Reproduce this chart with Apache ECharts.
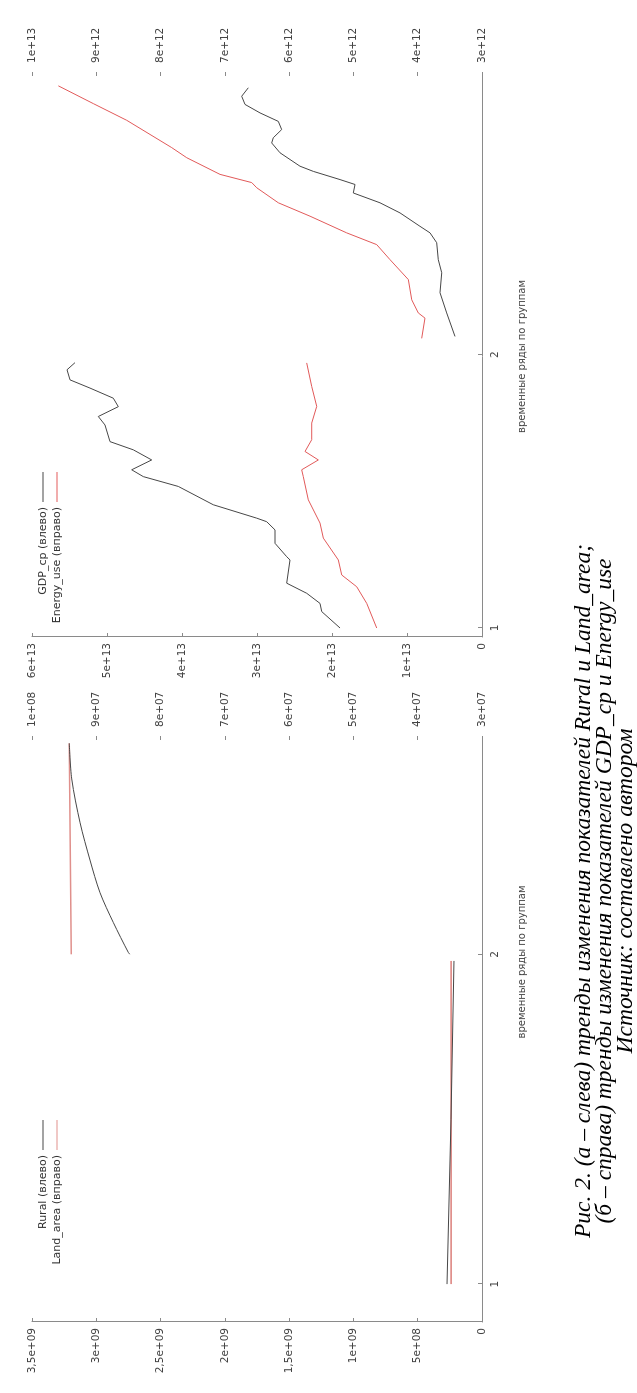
<!DOCTYPE html>
<html>
<head>
<meta charset="utf-8">
<script src="https://cdn.jsdelivr.net/npm/echarts@6.0.0/dist/echarts.min.js"></script>
<style>
  html, body { margin: 0; padding: 0; background: #fff; overflow: hidden; width: 637px; height: 1393px; }
  #rot { position: absolute; left: 0; top: 0; width: 1393px; height: 637px;
         transform-origin: 0 0; transform: translate(0px, 1393px) rotate(-90deg); background: #fff; }
</style>
</head>
<body>
<div id="rot"></div>
<script>
// ---------- data ----------
const xTickValues = [1, 2];
const xTickLabels = ['1', '2'];

// Panel (a): Rural (left axis), Land_area (right axis)
const ruralX1 = [1.000, 1.500, 1.980];
const rural1  = [2.72e8, 2.41e8, 2.18e8];
const ruralX2 = [2.000, 2.006, 2.097, 2.187, 2.286, 2.399, 2.532, 2.640];
const rural2  = [2.738e9, 2.751e9, 2.868e9, 2.971e9, 3.049e9, 3.126e9, 3.191e9, 3.210e9];
const landX1 = [1.000, 1.980];
const land1  = [3.48e7, 3.48e7];
const landX2 = [2.000, 2.640];
const land2  = [9.39e7, 9.42e7];

// Panel (b): GDP_cp (left axis), Energy_use (right axis)
const gdpX1 = [1.000, 1.060, 1.090, 1.127, 1.164, 1.249, 1.261, 1.310, 1.359, 1.389, 1.402, 1.451, 1.518,
               1.554, 1.579, 1.615, 1.652, 1.682, 1.743, 1.774, 1.810, 1.841, 1.878, 1.908, 1.945, 1.971];
const gdp1  = [1.893e13, 2.137e13, 2.160e13, 2.337e13, 2.604e13, 2.560e13, 2.604e13, 2.760e13, 2.760e13,
               2.871e13, 3.004e13, 3.583e13, 4.049e13, 4.516e13, 4.671e13, 4.404e13, 4.649e13, 4.960e13,
               5.027e13, 5.116e13, 4.849e13, 4.916e13, 5.227e13, 5.493e13, 5.533e13, 5.427e13];
const gdpX2 = [2.067, 2.153, 2.227, 2.300, 2.348, 2.410, 2.446, 2.470, 2.519, 2.556, 2.592, 2.623,
               2.641, 2.671, 2.690, 2.739, 2.775, 2.794, 2.824, 2.854, 2.885, 2.916, 2.946, 2.977];
const gdp2  = [0.360e13, 0.471e13, 0.560e13, 0.537e13, 0.583e13, 0.604e13, 0.693e13, 0.827e13,
               1.093e13, 1.360e13, 1.716e13, 1.693e13, 1.893e13, 2.249e13, 2.427e13, 2.693e13, 2.804e13,
               2.783e13, 2.671e13, 2.716e13, 2.960e13, 3.160e13, 3.204e13, 3.116e13];
const energyX1 = [1.000, 1.090, 1.151, 1.194, 1.249, 1.329, 1.384, 1.469, 1.554, 1.579, 1.615, 1.646,
                  1.689, 1.750, 1.811, 1.884, 1.970];
const energy1  = [4.638e12, 4.793e12, 4.949e12, 5.182e12, 5.235e12, 5.468e12, 5.520e12, 5.702e12, 5.780e12,
                  5.805e12, 5.546e12, 5.753e12, 5.649e12, 5.649e12, 5.571e12, 5.649e12, 5.727e12];
const energyX2 = [2.060, 2.134, 2.153, 2.201, 2.275, 2.348, 2.403, 2.446, 2.507, 2.556, 2.611,
                  2.630, 2.660, 2.721, 2.758, 2.858, 2.919, 2.984];
const energy2  = [3.938e12, 3.887e12, 3.991e12, 4.093e12, 4.146e12, 4.431e12, 4.638e12, 5.105e12,
                  5.675e12, 6.168e12, 6.504e12, 6.582e12, 7.075e12, 7.593e12, 7.827e12, 8.527e12, 9.046e12, 9.590e12];

// tick labels
const ruralTicks = [0, 5e8, 1e9, 1.5e9, 2e9, 2.5e9, 3e9, 3.5e9];
const ruralTickLabels = ['0', '5e+08', '1e+09', '1,5e+09', '2e+09', '2,5e+09', '3e+09', '3,5e+09'];
const landTicks = [3e7, 4e7, 5e7, 6e7, 7e7, 8e7, 9e7, 1e8];
const landTickLabels = ['3e+07', '4e+07', '5e+07', '6e+07', '7e+07', '8e+07', '9e+07', '1e+08'];
const gdpTicks = [0, 1e13, 2e13, 3e13, 4e13, 5e13, 6e13];
const gdpTickLabels = ['0', '1e+13', '2e+13', '3e+13', '4e+13', '5e+13', '6e+13'];
const energyTicks = [3e12, 4e12, 5e12, 6e12, 7e12, 8e12, 9e12, 1e13];
const energyTickLabels = ['3e+12', '4e+12', '5e+12', '6e+12', '7e+12', '8e+12', '9e+12', '1e+13'];

const captionLines = [
  'Рис. 2. (а – слева) тренды изменения показателей Rural и Land_area;',
  '(б – справа) тренды изменения показателей GDP_cp и Energy_use',
  'Источник: составлено автором'
];
const xName = 'временные ряды по группам';

// ---------- chart ----------
function zip(xs, ys) { return xs.map((x, i) => [x, ys[i]]); }
function lookup(ticks, labels) {
  return function (v) {
    for (let i = 0; i < ticks.length; i++) {
      if (Math.abs(ticks[i] - v) <= Math.abs(ticks[i]) * 1e-6 + 1e-9) return labels[i];
    }
    return '';
  };
}
const FONT = 'DejaVu Sans';
const AXIS_COLOR = '#8a8a8a';
const LABEL_COLOR = '#444';
const C_BLACK = '#474747';
const C_RED = '#e25a5a';
const C_PINK = '#e0908c';

function xAxisFor(grid, min, max, namePad) {
  return {
    type: 'value', gridIndex: grid, min, max,
    name: xName, nameLocation: 'middle', nameGap: 35,
    nameTextStyle: { fontFamily: FONT, fontSize: 10, color: LABEL_COLOR, padding: namePad },
    axisLine: { show: true, onZero: false, lineStyle: { color: AXIS_COLOR, width: 1 } },
    axisTick: { show: true, inside: true, length: 4, customValues: xTickValues, lineStyle: { color: AXIS_COLOR } },
    axisLabel: { customValues: xTickValues, formatter: lookup(xTickValues, xTickLabels),
                 fontFamily: FONT, fontSize: 10.5, color: LABEL_COLOR, margin: 8 },
    splitLine: { show: false }
  };
}
function leftAxis(grid, min, max, interval, ticks, labels) {
  return {
    type: 'value', gridIndex: grid, position: 'left', min, max, interval,
    axisLine: { show: true, lineStyle: { color: AXIS_COLOR, width: 1 } },
    axisTick: { show: true, inside: true, length: 4, lineStyle: { color: AXIS_COLOR } },
    axisLabel: { formatter: lookup(ticks, labels), fontFamily: FONT, fontSize: 10.5, color: LABEL_COLOR, margin: 6 },
    splitLine: { show: false }
  };
}
function rightAxis(grid, min, max, interval, ticks, labels) {
  return {
    type: 'value', gridIndex: grid, position: 'right', min, max, interval,
    axisLine: { show: false },
    axisTick: { show: true, inside: false, length: 4, lineStyle: { color: AXIS_COLOR } },
    axisLabel: { formatter: lookup(ticks, labels), fontFamily: FONT, fontSize: 10.5, color: LABEL_COLOR, margin: 13 },
    splitLine: { show: false }
  };
}
function line(name, xi, yi, data, color, width, smooth) {
  return { type: 'line', name, xAxisIndex: xi, yAxisIndex: yi, data, symbol: 'none',
           smooth: smooth || false, color, lineStyle: { color, width }, itemStyle: { color },
           silent: true, animation: false };
}
function legendFor(names, right) {
  return {
    data: names, orient: 'vertical', align: 'right', right, top: 36, padding: 0,
    itemWidth: 30, itemHeight: 1, itemGap: 0, icon: 'rect', selectedMode: false,
    textStyle: { fontFamily: FONT, fontSize: 11, lineHeight: 14, color: '#333' }
  };
}

const chart = echarts.init(document.getElementById('rot'), null, { width: 1393, height: 637, renderer: 'canvas' });
chart.setOption({
  backgroundColor: '#ffffff',
  animation: false,
  grid: [
    { left: 71, top: 32, width: 582, height: 450 },
    { left: 756, top: 32, width: 561, height: 450 }
  ],
  xAxis: [xAxisFor(0, 0.885, 2.65, [0, 0, 0, 138]), xAxisFor(1, 0.967, 3.02, 0)],
  yAxis: [
    leftAxis(0, 0, 3.5e9, 5e8, ruralTicks, ruralTickLabels),
    rightAxis(0, 3e7, 1e8, 1e7, landTicks, landTickLabels),
    leftAxis(1, 0, 6e13, 1e13, gdpTicks, gdpTickLabels),
    rightAxis(1, 3e12, 1e13, 1e12, energyTicks, energyTickLabels)
  ],
  legend: [
    legendFor(['Rural (влево)', 'Land_area (вправо)'], 1120),
    legendFor(['GDP_cp (влево)', 'Energy_use (вправо)'], 472)
  ],
  series: [
    line('Land_area (вправо)', 0, 1, zip(landX1, land1), C_PINK, 1.6),
    line('Land_area (вправо)', 0, 1, zip(landX2, land2), C_PINK, 1.6),
    line('Rural (влево)', 0, 0, zip(ruralX1, rural1), C_BLACK, 1),
    line('Rural (влево)', 0, 0, zip(ruralX2, rural2), C_BLACK, 1, 0.3),
    line('GDP_cp (влево)', 1, 2, zip(gdpX1, gdp1), C_BLACK, 1),
    line('GDP_cp (влево)', 1, 2, zip(gdpX2, gdp2), C_BLACK, 1),
    line('Energy_use (вправо)', 1, 3, zip(energyX1, energy1), C_RED, 1),
    line('Energy_use (вправо)', 1, 3, zip(energyX2, energy2), C_RED, 1)
  ],
  graphic: captionLines.map((t, i) => ({
    type: 'text', x: 502, y: 584 + i * 21, silent: true,
    style: { text: t, fill: '#000', font: 'italic 23.5px "Liberation Serif", "DejaVu Serif", serif',
             align: 'center', verticalAlign: 'middle' }
  }))
});
</script>
</body>
</html>
